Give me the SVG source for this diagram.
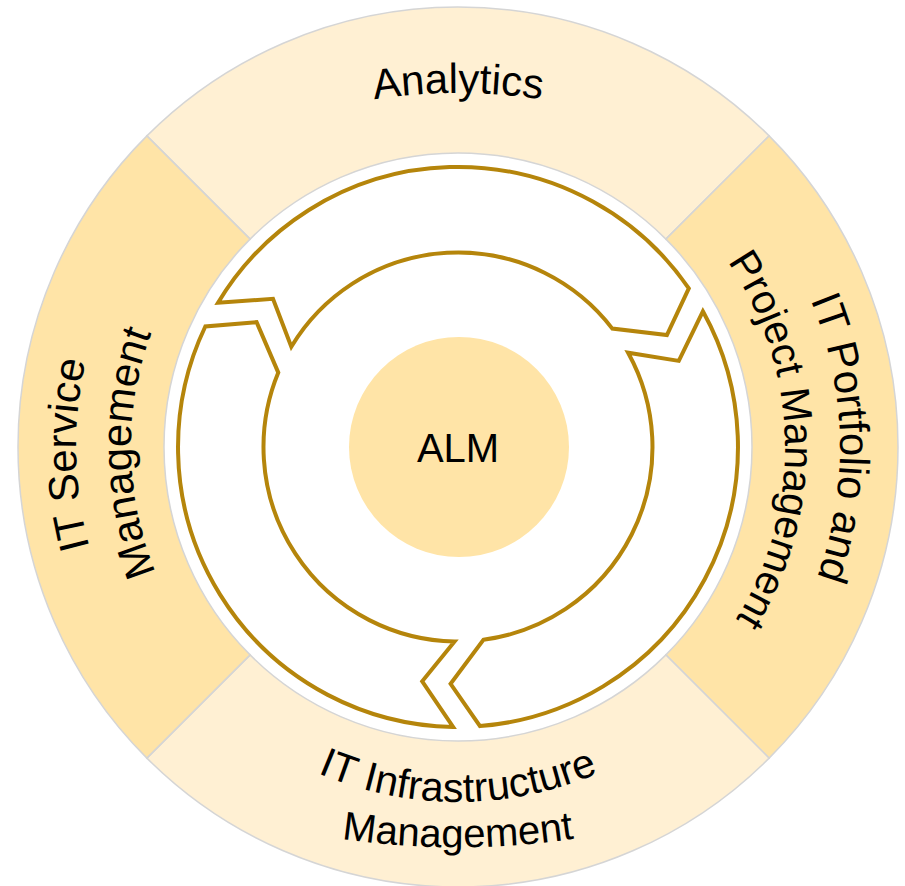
<svg xmlns="http://www.w3.org/2000/svg" width="905" height="886" viewBox="0 0 905 886">
  <style>
    .seg-light { fill: #FFF0D3; stroke: #D5D5D5; stroke-width: 1.5; }
    .seg-dark { fill: #FFE4A7; stroke: #D5D5D5; stroke-width: 1.5; }
    .arrow { fill: #FFFFFF; stroke: #B5850B; stroke-width: 4; stroke-linejoin: miter; }
    .lbl { font-family: "Liberation Sans", Arial, sans-serif; fill: #000000; }
  </style>
  <defs>
    <path id="p-top" d="M183,166.7 A550,550 0 0 1 733,166.7"/>
    <path id="p-bot1" d="M150.6,624.5 A355,355 0 0 0 765.4,624.5"/>
    <path id="p-bot2" d="M319.1,835.1 A800,800 0 0 0 596.9,835.1"/>
    <path id="p-left1" d="M267,777.8 A382,382 0 0 1 267,116.2"/>
    <path id="p-left2" d="M294.5,730.2 A327,327 0 0 1 294.5,163.8"/>
    <path id="p-right1" d="M649,116.2 A382,382 0 0 1 649,777.8"/>
    <path id="p-right2" d="M621.5,163.8 A327,327 0 0 1 621.5,730.2"/>
  </defs>
  <rect width="905" height="886" fill="#FFFFFF"/>

  <g id="analytics">
    <path class="seg-light" d="M146.87,135.87 A440,440 0 0 1 769.13,135.87 L665.89,239.11 A294,294 0 0 0 250.11,239.11 Z"/>
    <text class="lbl" font-size="42"><textPath href="#p-top" startOffset="50%" text-anchor="middle">Analytics</textPath></text>
  </g>

  <g id="it-portfolio">
    <path class="seg-dark" d="M769.13,135.87 A440,440 0 0 1 769.13,758.13 L665.89,654.89 A294,294 0 0 0 665.89,239.11 Z"/>
    <g transform="rotate(-1.35 458 447)">
      <text class="lbl" font-size="42"><textPath href="#p-right1" startOffset="50%" text-anchor="middle">IT Portfolio and</textPath></text>
      <text class="lbl" font-size="41"><textPath href="#p-right2" startOffset="50%" text-anchor="middle">Project Management</textPath></text>
    </g>
  </g>

  <g id="it-infrastructure">
    <path class="seg-light" d="M769.13,758.13 A440,440 0 0 1 146.87,758.13 L250.11,654.89 A294,294 0 0 0 665.89,654.89 Z"/>
    <text class="lbl" font-size="41"><textPath href="#p-bot1" startOffset="50%" text-anchor="middle">IT Infrastructure</textPath></text>
    <text class="lbl" font-size="40"><textPath href="#p-bot2" startOffset="50%" text-anchor="middle">Management</textPath></text>
  </g>

  <g id="it-service">
    <path class="seg-dark" d="M146.87,758.13 A440,440 0 0 1 146.87,135.87 L250.11,239.11 A294,294 0 0 0 250.11,654.89 Z"/>
    <g transform="rotate(-1.1 458 447)">
      <text class="lbl" font-size="42"><textPath href="#p-left1" startOffset="50%" text-anchor="middle">IT Service</textPath></text>
      <text class="lbl" font-size="42"><textPath href="#p-left2" startOffset="50%" text-anchor="middle">Management</textPath></text>
    </g>
  </g>

  <g id="connectors">
    <path class="arrow" d="M218.0,302.8 A280,280 0 0 1 688.8,288.4 L666.9,335.0 L612.3,328.6 A194.5,194.5 0 0 0 291.3,346.8 L273.0,298.8 Z"/>
    <path class="arrow" d="M702.9,311.3 A280,280 0 0 1 480.0,726.1 L450.6,683.9 L483.4,639.8 A194.5,194.5 0 0 0 628.1,352.7 L678.8,360.9 Z"/>
    <path class="arrow" d="M453.1,727.0 A280,280 0 0 1 205.3,326.5 L256.6,322.1 L278.3,372.6 A194.5,194.5 0 0 0 454.6,641.5 L422.2,681.3 Z"/>
  </g>

  <g id="alm">
    <circle cx="459" cy="447" r="110" fill="#FFE4A7"/>
    <text class="lbl" x="458" y="462" font-size="40" text-anchor="middle">ALM</text>
  </g>
</svg>
